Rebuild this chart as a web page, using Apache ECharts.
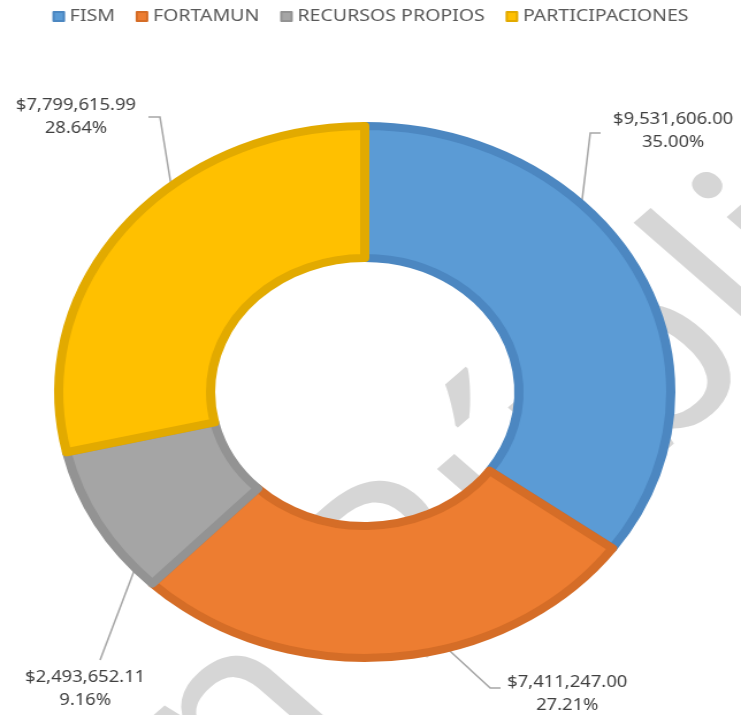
<!DOCTYPE html>
<html>
<head>
<meta charset="utf-8">
<script src="https://cdn.jsdelivr.net/npm/echarts@6/dist/echarts.min.js"></script>
<style>
  html, body { margin: 0; padding: 0; background: #fff; }
  #wrap { width: 741px; height: 715px; overflow: hidden; }
  /* the source picture is stretched sideways, so the chart is drawn narrower and widened */
  #main { width: 644px; height: 715px; transform: scaleX(1.1506); transform-origin: 0 0; }
</style>
</head>
<body>
<div id="wrap"><div id="main"></div></div>
<script>
var fuentes = ['FISM', 'FORTAMUN', 'RECURSOS PROPIOS', 'PARTICIPACIONES'];
var montos = [9531606.00, 7411247.00, 2493652.11, 7799615.99];
var colores = ['#5B9BD5', '#ED7D31', '#A5A5A5', '#FFC000'];
var bordes = ['#4C87C1', '#D56D27', '#939393', '#E2AA00'];

// where each label sits (chart px, before the sideways stretch)
var etiquetas = [
    {x: 585, y: 131, bend: [513, 133], end: [522, 133]},
    {x: 493, y: 694, bend: [426, 688], end: [435, 688]},
    {x: 74, y: 689, bend: null, end: [87, 660]},
    {x: 66, y: 117, bend: [139, 117], end: [129, 117]}
];

var cx = 317, cy = 392;
var total = montos.reduce(function (a, b) { return a + b; }, 0);

function midPoint(i) {
    var before = 0;
    for (var k = 0; k < i; k++) before += montos[k];
    var ang = (90 - (before + montos[i] / 2) / total * 360) * Math.PI / 180;
    return [cx + 200 * Math.cos(ang), cy - 200 * Math.sin(ang)];
}

function fmt(v) {
    return '$' + v.toLocaleString('en-US', {minimumFractionDigits: 2, maximumFractionDigits: 2});
}

var data = fuentes.map(function (n, i) {
    return {
        name: n,
        value: montos[i],
        itemStyle: {color: colores[i], borderColor: bordes[i]}
    };
});

var option = {
    backgroundColor: '#fff',
    legend: {
        top: 3,
        left: 'center',
        icon: 'rect',
        itemWidth: 9,
        itemHeight: 9,
        itemGap: 18,
        textStyle: {color: '#595959', fontSize: 17, fontFamily: 'Noto Sans'},
        data: fuentes
    },
    series: [{
        type: 'pie',
        center: [cx, cy],
        radius: [134, 266],
        startAngle: 90,
        clockwise: true,
        silent: true,
        itemStyle: {borderWidth: 8},
        label: {
            show: true,
            position: 'outside',
            color: '#404040',
            fontSize: 16,
            lineHeight: 23,
            fontFamily: 'Noto Sans',
            width: 170,
            overflow: 'none',
            align: 'center',
            formatter: function (p) {
                return fmt(p.value) + '\n' + (p.value / total * 100).toFixed(2) + '%';
            }
        },
        labelLine: {
            show: true,
            lineStyle: {color: '#A6A6A6', width: 1.5}
        },
        labelLayout: function (p) {
            var e = etiquetas[p.dataIndex];
            var pts = [midPoint(p.dataIndex)];
            if (e.bend) pts.push(e.bend);
            pts.push(e.end);
            return {
                x: e.x,
                y: e.y,
                align: 'center',
                verticalAlign: 'middle',
                labelLinePoints: pts
            };
        },
        data: data
    }],
    graphic: [{
        type: 'group',
        x: 75,
        y: 690,
        rotation: Math.PI / 4,
        z: 100,
        children: [{
            type: 'text',
            style: {text: 'Versió', x: 0, y: 0, align: 'right', verticalAlign: 'alphabetic',
                font: '238px "Noto Sans"', fill: 'rgba(210,210,210,0.9)'}
        }, {
            type: 'text',
            style: {text: 'n Pública', x: 0, y: 0, align: 'left', verticalAlign: 'alphabetic',
                font: '238px "Noto Sans"', fill: 'rgba(210,210,210,0.9)'}
        }]
    }]
};

var chart = echarts.init(document.getElementById('main'));
chart.setOption(option);
</script>
</body>
</html>
